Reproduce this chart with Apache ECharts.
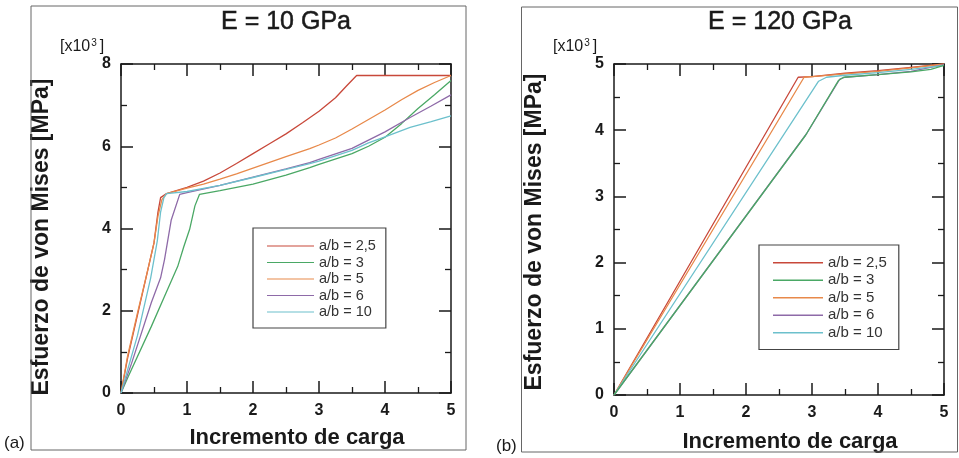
<!DOCTYPE html>
<html>
<head>
<meta charset="utf-8">
<script src="https://cdn.jsdelivr.net/npm/echarts@6/dist/echarts.min.js"></script>
<style>html,body{margin:0;padding:0;background:#fff;}#c{width:959px;height:458px;}</style>
</head>
<body>
<div id="c"></div>
<script>
// ---- data ----
const seriesNames = ['a/b = 2,5', 'a/b = 3', 'a/b = 5', 'a/b = 6', 'a/b = 10'];
const seriesColors = ['#c8483a', '#4aa865', '#e8894a', '#8e6aa8', '#6cc0cc'];
const xTicks = [0, 1, 2, 3, 4, 5];
const yTicksA = [0, 2, 4, 6, 8];
const yTicksB = [0, 1, 2, 3, 4, 5];

// Panel (a): E = 10 GPa  [x, y (x10^3 MPa)]
const a_ab25 = [[0,0],[0.1,0.85],[0.25,1.9],[0.4,2.95],[0.5,3.65],[0.56,4.4],[0.6,4.75],[0.69,4.85],[1,5.0],[1.25,5.15],[1.5,5.35],[1.75,5.58],[2,5.82],[2.25,6.06],[2.5,6.3],[2.75,6.57],[3,6.85],[3.25,7.18],[3.42,7.47],[3.57,7.72],[5,7.72]];
const a_ab3  = [[0,0],[0.11,0.4],[0.46,1.62],[0.7,2.5],[0.86,3.08],[0.95,3.55],[1.04,3.98],[1.12,4.55],[1.19,4.83],[1.5,4.92],[2,5.08],[2.5,5.3],[2.86,5.48],[3,5.56],[3.5,5.82],[3.75,6.0],[4,6.22],[4.25,6.55],[4.5,6.92],[4.75,7.25],[5,7.6]];
const a_ab5  = [[0,0],[0.1,0.9],[0.25,1.95],[0.4,2.95],[0.5,3.65],[0.56,4.3],[0.62,4.7],[0.69,4.85],[1,4.98],[1.25,5.08],[1.5,5.2],[1.75,5.33],[2,5.47],[2.5,5.75],[2.86,5.94],[3,6.03],[3.25,6.2],[3.5,6.42],[3.75,6.65],[4,6.88],[4.25,7.13],[4.5,7.36],[4.75,7.55],[5,7.72]];
const a_ab6  = [[0,0],[0.16,0.72],[0.46,2.2],[0.6,2.8],[0.66,3.25],[0.76,4.2],[0.89,4.83],[1,4.87],[1.5,5.05],[2,5.25],[2.5,5.45],[2.86,5.6],[3,5.68],[3.5,5.95],[3.75,6.15],[4,6.35],[4.38,6.7],[4.7,6.98],[5,7.25]];
const a_ab10 = [[0,0],[0.25,1.4],[0.45,2.8],[0.55,3.7],[0.6,4.4],[0.65,4.75],[0.69,4.85],[1,4.9],[1.5,5.05],[2,5.24],[2.5,5.44],[2.86,5.58],[3,5.64],[3.5,5.9],[3.75,6.08],[4,6.23],[4.38,6.46],[4.7,6.6],[5,6.74]];

// Panel (b): E = 120 GPa
const b_ab25 = [[0,0],[2.79,4.8],[3,4.81],[3.5,4.86],[4,4.9],[4.5,4.95],[5,5.0]];
const b_ab3  = [[0,0],[2.9,3.92],[3.4,4.75],[3.48,4.8],[4,4.84],[4.5,4.88],[4.8,4.92],[5,4.98]];
const b_ab5  = [[0,0],[2.88,4.8],[3,4.81],[3.5,4.85],[4,4.89],[4.5,4.94],[5,5.0]];
const b_ab6  = [[0,0],[2.92,3.95],[3.42,4.77],[3.5,4.8],[4,4.84],[4.5,4.89],[5,4.99]];
const b_ab10 = [[0,0],[3.1,4.74],[3.22,4.8],[3.5,4.83],[4,4.87],[4.5,4.92],[5,4.98]];

const panelA = [a_ab25, a_ab3, a_ab5, a_ab6, a_ab10];
const panelB = [b_ab25, b_ab3, b_ab5, b_ab6, b_ab10];

// ---- chart ----
const FONT = 'Liberation Sans, Arial, sans-serif';
const INK = '#1a1a1a';

function xAx(grid, top, labels) {
  return {
    type: 'value', gridIndex: grid, min: 0, max: 5, interval: 1,
    position: top ? 'top' : 'bottom',
    axisLine: { show: true, onZero: false, lineStyle: { color: INK, width: 1.5 } },
    axisTick: { show: true, inside: true, length: 12, lineStyle: { color: INK, width: 1.5 } },
    minorTick: { show: true, splitNumber: 2, length: 6, lineStyle: { color: INK, width: 1.3 } },
    axisLabel: { show: labels, fontSize: 16, fontWeight: 'bold', color: INK, margin: 10, fontFamily: FONT,
      formatter: v => xTicks.includes(v) ? String(v) : '' },
    splitLine: { show: false }
  };
}
function yAx(grid, right, labels, max, interval, ticks) {
  return {
    type: 'value', gridIndex: grid, min: 0, max: max, interval: interval,
    position: right ? 'right' : 'left',
    axisLine: { show: true, onZero: false, lineStyle: { color: INK, width: 1.5 } },
    axisTick: { show: true, inside: true, length: 12, lineStyle: { color: INK, width: 1.5 } },
    minorTick: { show: true, splitNumber: 2, length: 6, lineStyle: { color: INK, width: 1.3 } },
    axisLabel: { show: labels, fontSize: 16, fontWeight: 'bold', color: INK, margin: 10, fontFamily: FONT,
      formatter: v => ticks.includes(v) ? String(v) : '' },
    splitLine: { show: false }
  };
}

const series = [];
panelA.forEach((d, i) => series.push({
  name: seriesNames[i], type: 'line', xAxisIndex: 0, yAxisIndex: 0, data: d,
  symbol: 'none', smooth: false, color: seriesColors[i], lineStyle: { width: 1.3, color: seriesColors[i] }, z: 3
}));
panelB.forEach((d, i) => series.push({
  name: seriesNames[i], type: 'line', xAxisIndex: 2, yAxisIndex: 2, data: d,
  symbol: 'none', smooth: false, color: seriesColors[i], lineStyle: { width: 1.3, color: seriesColors[i] }, z: i === 1 ? 4 : 3
}));

function legend(left, top, pad, lh, gap, w, fs) {
  return {
    data: seriesNames, orient: 'vertical', left: left, top: top,
    padding: pad, itemGap: gap, itemWidth: w, itemHeight: lh,
    icon: 'path://M0,0H50V1.3H0Z', symbolKeepAspect: true,
    borderColor: '#444', borderWidth: 1.2, backgroundColor: '#fff', borderRadius: 0,
    selectedMode: false, z: 10,
    textStyle: { fontSize: fs, color: '#333', fontFamily: FONT, lineHeight: lh }
  };
}

const chart = echarts.init(document.getElementById('c'), null, { renderer: 'canvas' });
chart.setOption({
  animation: false,
  backgroundColor: '#ffffff',
  grid: [
    { left: 121, top: 64, width: 330, height: 329 },
    { left: 614, top: 64, width: 330, height: 331 }
  ],
  xAxis: [xAx(0, false, true), xAx(0, true, false), xAx(1, false, true), xAx(1, true, false)],
  yAxis: [yAx(0, false, true, 8, 2, yTicksA), yAx(0, true, false, 8, 2, yTicksA),
          yAx(1, false, true, 5, 1, yTicksB), yAx(1, true, false, 5, 1, yTicksB)],
  legend: [
    legend(253, 228, [10, 10, 8, 14], 16, 0.5, 47, 14.5),
    legend(759, 245, [9, 12, 8, 14], 17.5, 0, 50, 15)
  ],
  series: series,
  graphic: [
    { type: 'rect', shape: { x: 31, y: 6, width: 435, height: 444 }, style: { fill: 'none', stroke: '#666', lineWidth: 1 }, z: 1 },
    { type: 'rect', shape: { x: 521.5, y: 7, width: 436, height: 445 }, style: { fill: 'none', stroke: '#666', lineWidth: 1 }, z: 1 },
    { type: 'text', x: 286, y: 22, style: { text: 'E = 10 GPa', fontSize: 25, fontFamily: FONT, fill: INK, align: 'center', verticalAlign: 'middle', stroke: INK, lineWidth: 0.5 } },
    { type: 'text', x: 780, y: 22, style: { text: 'E = 120 GPa', fontSize: 25, fontFamily: FONT, fill: INK, align: 'center', verticalAlign: 'middle', stroke: INK, lineWidth: 0.5 } },
    { type: 'text', x: 60, y: 47, style: { text: '{a|[x10}{s|3}{a|]}', fontFamily: FONT, fill: INK, verticalAlign: 'middle',
        rich: { a: { fontSize: 16, fontFamily: FONT, fill: INK }, s: { fontSize: 10, fontFamily: FONT, fill: INK, verticalAlign: 'top', padding: [0, 3, 8, 1] } } } },
    { type: 'text', x: 553, y: 47, style: { text: '{a|[x10}{s|3}{a|]}', fontFamily: FONT, fill: INK, verticalAlign: 'middle',
        rich: { a: { fontSize: 16, fontFamily: FONT, fill: INK }, s: { fontSize: 10, fontFamily: FONT, fill: INK, verticalAlign: 'top', padding: [0, 3, 8, 1] } } } },
    { type: 'text', x: 42, y: 237, rotation: Math.PI / 2, style: { text: 'Esfuerzo de von Mises [MPa]', fontSize: 23, fontWeight: 'bold', fontFamily: FONT, fill: INK, align: 'center', verticalAlign: 'middle' } },
    { type: 'text', x: 535, y: 232, rotation: Math.PI / 2, style: { text: 'Esfuerzo de von Mises [MPa]', fontSize: 23, fontWeight: 'bold', fontFamily: FONT, fill: INK, align: 'center', verticalAlign: 'middle' } },
    { type: 'text', x: 297, y: 438, style: { text: 'Incremento de carga', fontSize: 22, fontWeight: 'bold', fontFamily: FONT, fill: INK, align: 'center', verticalAlign: 'middle' } },
    { type: 'text', x: 790, y: 442, style: { text: 'Incremento de carga', fontSize: 22, fontWeight: 'bold', fontFamily: FONT, fill: INK, align: 'center', verticalAlign: 'middle' } },
    { type: 'text', x: 4, y: 443, style: { text: '(a)', fontSize: 17, fontFamily: FONT, fill: INK, verticalAlign: 'middle' } },
    { type: 'text', x: 496, y: 446, style: { text: '(b)', fontSize: 17, fontFamily: FONT, fill: INK, verticalAlign: 'middle' } }
  ]
});
</script>
</body>
</html>
